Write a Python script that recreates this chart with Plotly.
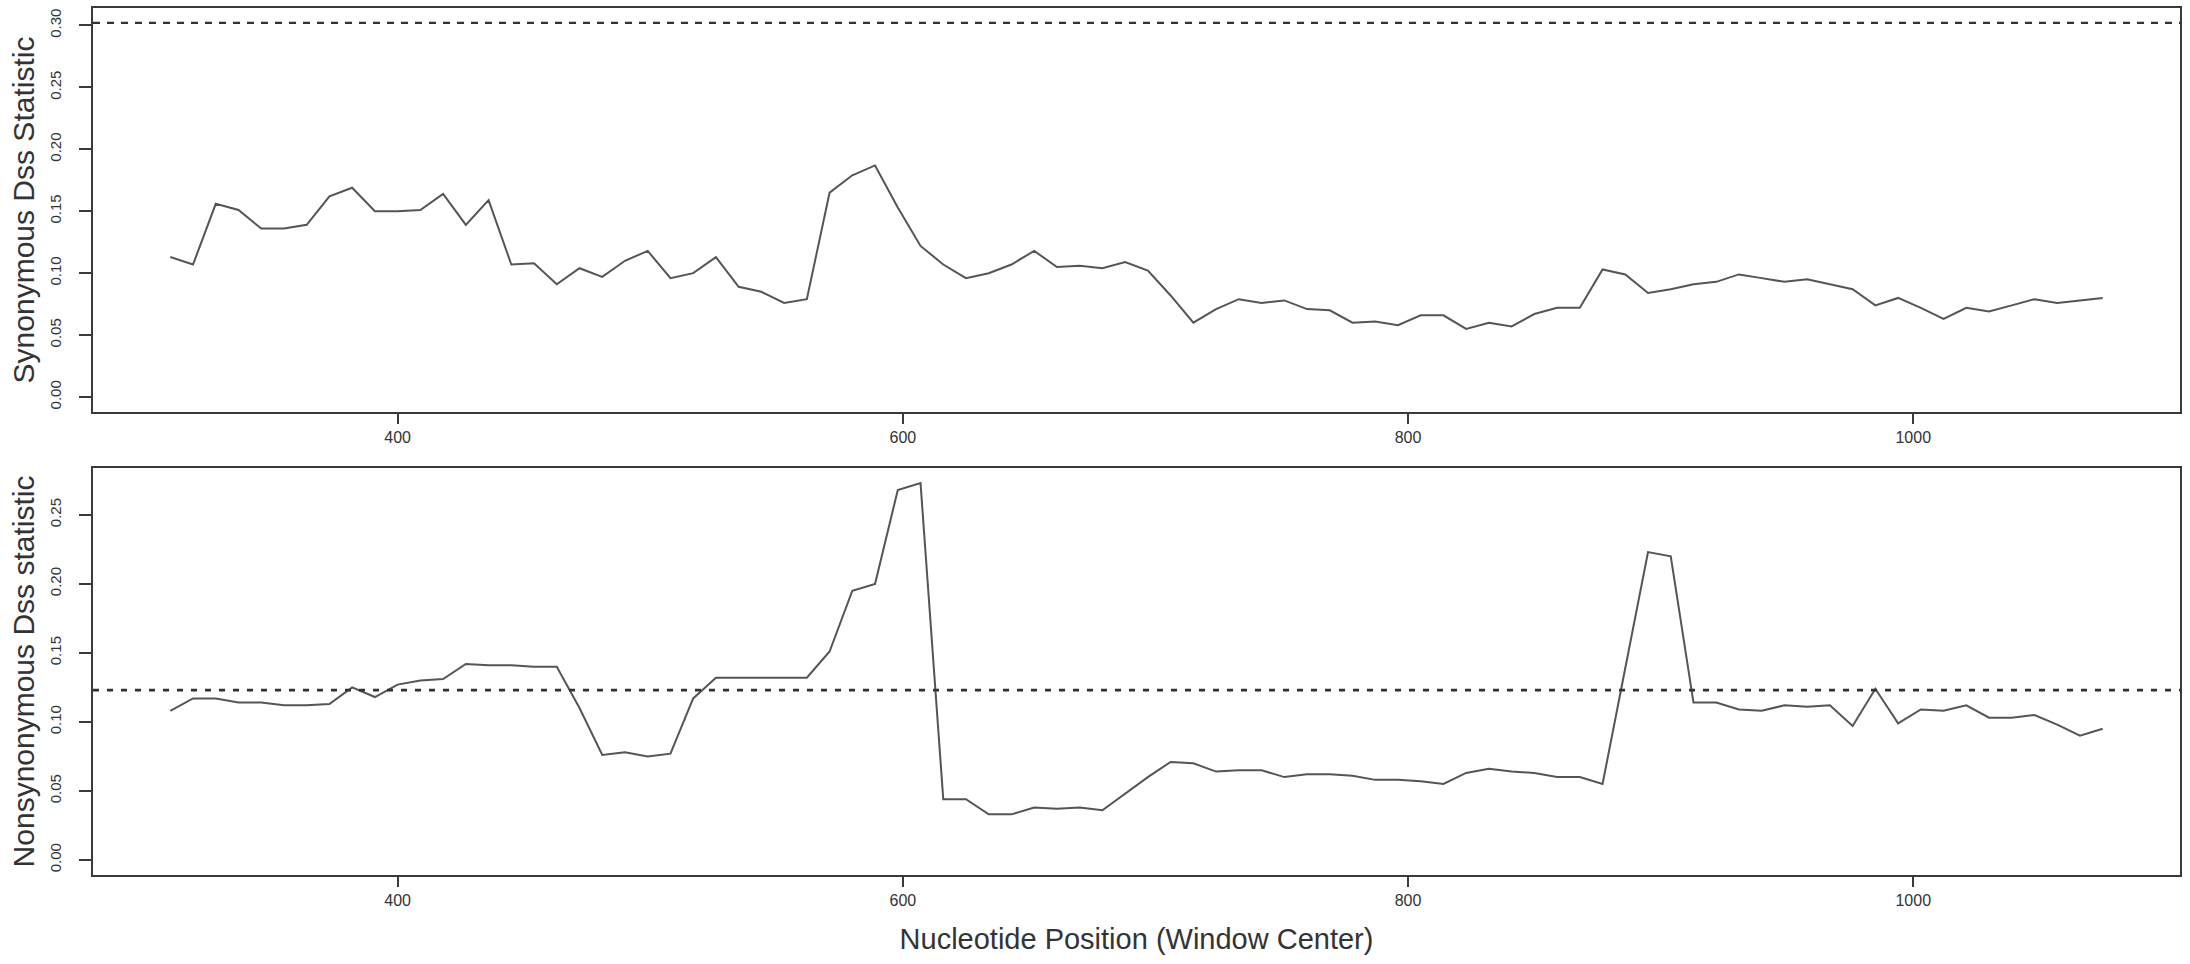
import plotly.graph_objects as go

# Sliding-window centres (nucleotide positions)
window_start = 310
window_step = 9
n_windows = 86
positions = [window_start + window_step * i for i in range(n_windows)]

# Synonymous Dss statistic per window
syn_dss = [
    0.113, 0.107, 0.156, 0.151, 0.136, 0.136, 0.139, 0.162, 0.169, 0.150,
    0.150, 0.151, 0.164, 0.139, 0.159, 0.107, 0.108, 0.091, 0.104, 0.097,
    0.110, 0.118, 0.096, 0.100, 0.113, 0.089, 0.085, 0.076, 0.079, 0.165,
    0.179, 0.187, 0.153, 0.122, 0.107, 0.096, 0.100, 0.107, 0.118, 0.105,
    0.106, 0.104, 0.109, 0.102, 0.082, 0.060, 0.071, 0.079, 0.076, 0.078,
    0.071, 0.070, 0.060, 0.061, 0.058, 0.066, 0.066, 0.055, 0.060, 0.057,
    0.067, 0.072, 0.072, 0.103, 0.099, 0.084, 0.087, 0.091, 0.093, 0.099,
    0.096, 0.093, 0.095, 0.091, 0.087, 0.074, 0.080, 0.072, 0.063, 0.072,
    0.069, 0.074, 0.079, 0.076, 0.078, 0.080,
]

# Nonsynonymous Dss statistic per window
nonsyn_dss = [
    0.108, 0.117, 0.117, 0.114, 0.114, 0.112, 0.112, 0.113, 0.125, 0.118,
    0.127, 0.130, 0.131, 0.142, 0.141, 0.141, 0.140, 0.140, 0.110, 0.076,
    0.078, 0.075, 0.077, 0.117, 0.132, 0.132, 0.132, 0.132, 0.132, 0.151,
    0.195, 0.200, 0.268, 0.273, 0.044, 0.044, 0.033, 0.033, 0.038, 0.037,
    0.038, 0.036, 0.048, 0.060, 0.071, 0.070, 0.064, 0.065, 0.065, 0.060,
    0.062, 0.062, 0.061, 0.058, 0.058, 0.057, 0.055, 0.063, 0.066, 0.064,
    0.063, 0.060, 0.060, 0.055, 0.139, 0.223, 0.220, 0.114, 0.114, 0.109,
    0.108, 0.112, 0.111, 0.112, 0.097, 0.124, 0.099, 0.109, 0.108, 0.112,
    0.103, 0.103, 0.105, 0.098, 0.090, 0.095,
]

# Significance thresholds (dashed reference lines)
syn_threshold = 0.302
nonsyn_threshold = 0.123

x_ticks = [400, 600, 800, 1000]
syn_y_ticks = [0.00, 0.05, 0.10, 0.15, 0.20, 0.25, 0.30]
nonsyn_y_ticks = [0.00, 0.05, 0.10, 0.15, 0.20, 0.25]


def padded(lo, hi, frac=0.04):
    span = hi - lo
    return [lo - frac * span, hi + frac * span]


x_range = padded(min(positions), max(positions))
syn_range = padded(0, max(max(syn_dss), syn_threshold))
nonsyn_range = padded(0, max(max(nonsyn_dss), nonsyn_threshold))

W, H = 2190, 964
FONT = "Liberation Sans, Arial, sans-serif"
LINE_COL = "#555555"
AXIS_COL = "#3a3a3a"
TEXT_COL = "#333333"

fig = go.Figure()

fig.add_trace(go.Scatter(x=positions, y=syn_dss, mode="lines",
                         line=dict(color=LINE_COL, width=2),
                         xaxis="x", yaxis="y", showlegend=False))
fig.add_trace(go.Scatter(x=positions, y=nonsyn_dss, mode="lines",
                         line=dict(color=LINE_COL, width=2),
                         xaxis="x2", yaxis="y2", showlegend=False))

# Horizontal dashed threshold lines across the full plotting box
fig.add_trace(go.Scatter(x=x_range, y=[syn_threshold] * 2, mode="lines",
                         line=dict(color="#333333", width=2.2, dash="7px,7px"),
                         xaxis="x", yaxis="y", showlegend=False))
fig.add_trace(go.Scatter(x=x_range, y=[nonsyn_threshold] * 2, mode="lines",
                         line=dict(color="#333333", width=2.6, dash="6px,8px"),
                         xaxis="x2", yaxis="y2", showlegend=False))

x_dom = [93 / W, 2180 / W]
top_dom = [1 - 412 / H, 1 - 8 / H]
bot_dom = [1 - 875 / H, 1 - 468 / H]

common_x = dict(
    range=x_range, tickvals=x_ticks, ticks="outside", ticklen=10,
    tickwidth=1.5, tickcolor=AXIS_COL, showline=True, linecolor=AXIS_COL,
    linewidth=2, mirror=True, showgrid=False, zeroline=False,
    tickfont=dict(family=FONT, size=16, color=TEXT_COL),
    domain=x_dom,
)
common_y = dict(
    ticks="outside", ticklen=12, tickwidth=1.5, tickcolor=AXIS_COL,
    showline=True, linecolor=AXIS_COL, linewidth=2, mirror=True,
    showgrid=False, zeroline=False, tickangle=-90, tickformat=".2f",
    tickfont=dict(family=FONT, size=15, color=TEXT_COL),
    ticklabelstandoff=12,
)

fig.update_layout(
    width=W, height=H,
    margin=dict(l=0, r=0, t=0, b=0),
    paper_bgcolor="white", plot_bgcolor="white",
    font=dict(family=FONT, color=TEXT_COL),
    xaxis=dict(common_x, anchor="y"),
    yaxis=dict(common_y, range=syn_range, tickvals=syn_y_ticks,
               domain=top_dom, anchor="x",
               title=dict(text="Synonymous Dss Statistic",
                          font=dict(family=FONT, size=30, color=TEXT_COL),
                          standoff=4)),
    xaxis2=dict(common_x, anchor="y2",
                title=dict(text="Nucleotide Position (Window Center)",
                           font=dict(family=FONT, size=29, color=TEXT_COL),
                           standoff=20)),
    yaxis2=dict(common_y, range=nonsyn_range, tickvals=nonsyn_y_ticks,
                domain=bot_dom, anchor="x2",
                title=dict(text="Nonsynonymous Dss statistic",
                           font=dict(family=FONT, size=30, color=TEXT_COL),
                           standoff=4)),
)

fig.write_html("out.html")
